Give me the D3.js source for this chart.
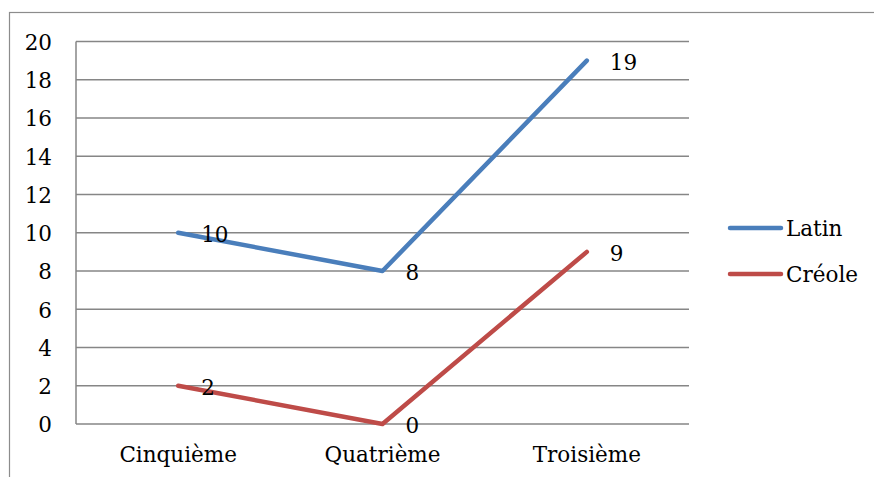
<!DOCTYPE html>
<html><head><meta charset="utf-8">
<script src="https://cdn.jsdelivr.net/npm/d3@7"></script>
<style>body{margin:0;background:#fff}svg{display:block}</style>
</head><body>
<script>
const categories = ["Cinquième", "Quatrième", "Troisième"];
const latin = [10, 8, 19];
const creole = [2, 0, 9];
const seriesNames = ["Latin", "Créole"];
const yTicks = [0, 2, 4, 6, 8, 10, 12, 14, 16, 18, 20];
const colors = ["#4A7EBB", "#BE4B48"];

const W = 874, H = 477;
const svg = d3.select("body").append("svg").attr("width", W).attr("height", H)
  .attr("font-family", "DejaVu Serif").attr("font-size", 21.5);

svg.append("rect").attr("x", 9.5).attr("y", 12.5).attr("width", 900).attr("height", 500)
  .attr("fill", "none").attr("stroke", "#8c8c8c").attr("stroke-width", 1.2);

const L = 76, R = 689, T = 41.5, B = 424;
const x = d3.scaleBand().domain(categories).range([L, R]);
const y = d3.scaleLinear().domain([0, 20]).range([B, T]);

svg.append("g").selectAll("line").data(yTicks).join("line")
  .attr("x1", L).attr("x2", R).attr("y1", d => y(d)).attr("y2", d => y(d))
  .attr("stroke", "#868686").attr("stroke-width", 1.5);
svg.append("line").attr("x1", L).attr("x2", L).attr("y1", T).attr("y2", B)
  .attr("stroke", "#868686").attr("stroke-width", 1.5);

const yAxis = d3.axisLeft(y).tickValues(yTicks).tickSize(0).tickPadding(24);
const gy = svg.append("g").attr("transform", `translate(${L},0)`).call(yAxis);
gy.select(".domain").remove();
gy.attr("font-family", null).attr("font-size", null);
gy.selectAll("text").attr("dy", "0.36em").attr("fill", "#000");

const xAxis = d3.axisBottom(x).tickSize(0).tickPadding(23);
const gx = svg.append("g").attr("transform", `translate(0,${B})`).call(xAxis);
gx.select(".domain").remove();
gx.attr("font-family", null).attr("font-size", null);
gx.selectAll("text").attr("fill", "#000");

const data = [latin, creole];
const line = d3.line().x((d, i) => x(categories[i]) + x.bandwidth() / 2).y(d => y(d));
data.forEach((vals, k) => {
  svg.append("path").attr("d", line(vals)).attr("fill", "none")
    .attr("stroke", colors[k]).attr("stroke-width", 4.5)
    .attr("stroke-linecap", "round").attr("stroke-linejoin", "round");
  svg.append("g").selectAll("text").data(vals).join("text")
    .attr("x", (d, i) => x(categories[i]) + x.bandwidth() / 2 + 23)
    .attr("y", d => y(d) + 9)
    .text(d => d);
});

const legY = [228, 274];
seriesNames.forEach((n, k) => {
  svg.append("line").attr("x1", 730).attr("x2", 781).attr("y1", legY[k]).attr("y2", legY[k])
    .attr("stroke", colors[k]).attr("stroke-width", 4.5).attr("stroke-linecap", "round");
  svg.append("text").attr("x", 786).attr("y", legY[k] + 8).text(n);
});
</script>
</body></html>
